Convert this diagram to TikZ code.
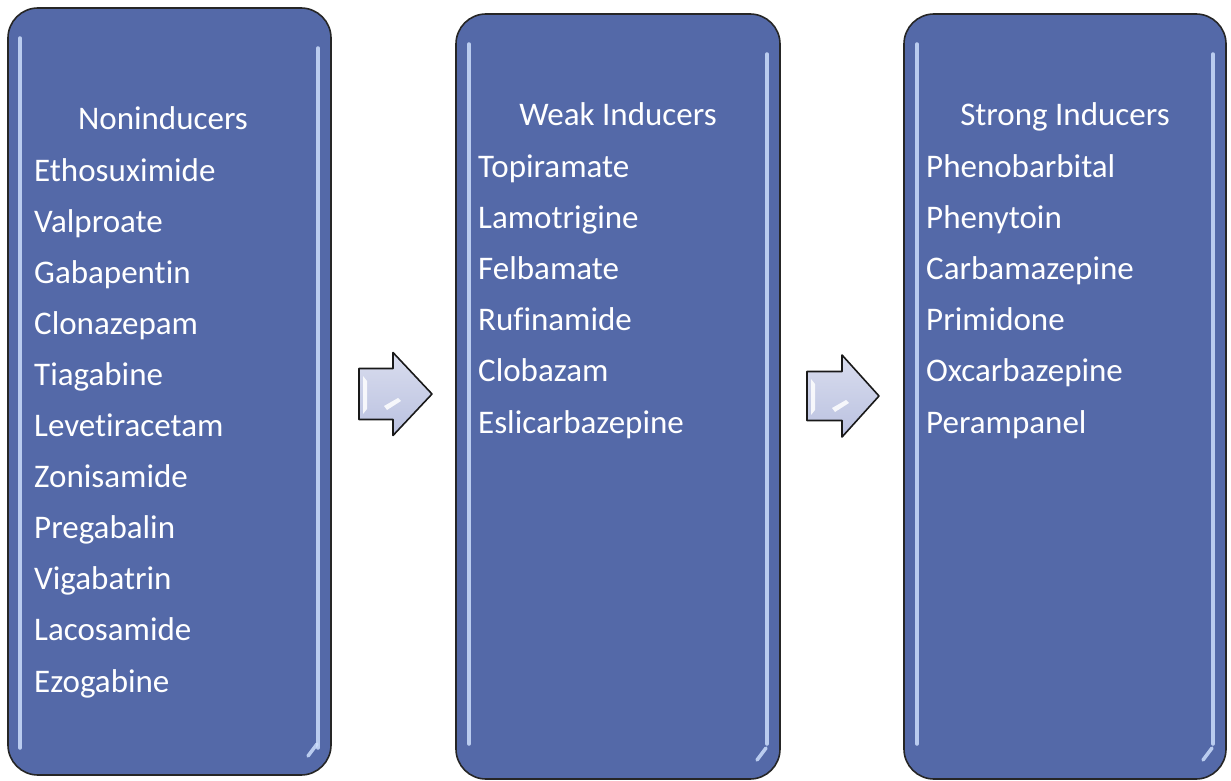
\documentclass[tikz,border=0pt]{standalone}
\usepackage{fontspec}
\setmainfont{Carlito}[Ligatures=NoCommon]
\definecolor{boxblue}{RGB}{84,105,168}
\definecolor{glowblue}{RGB}{205,222,252}
\definecolor{arrowlav}{RGB}{186,193,224}
\begin{document}
\begin{tikzpicture}[x=1pt,y=-1pt,
    panel/.style={draw=black!85,line width=1.6pt,fill=boxblue,rounded corners=30pt},
    glow/.style={glowblue,line width=3.5pt,line cap=round,opacity=0.85},
    blockarrow/.style={draw=black!90,line width=1.6pt,line join=round,top color=arrowlav!55!white,bottom color=arrowlav},
    heading/.style={anchor=base,text=white,inner sep=0pt,font=\fontsize{33}{40}\selectfont},
    druglist/.style={anchor=base west,text=white,inner sep=0pt,font=\fontsize{33}{40}\selectfont}]

    \useasboundingbox (0,0) rectangle (1231,781);

    % first panel
    \coordinate (P1) at (8,8);
    \draw[panel] (P1) rectangle ++(323,767);
    \draw[glow] (P1) ++(12,30) -- ++(0,710);
    \draw[glow] (P1) ++(310,40) -- ++(0,700);
    \draw[glow] (P1) ++(300,748) -- ++(9,-12);
    \node[heading] (head1) at (163,129) {Noninducers};
    \foreach \drug [count=\i] in {Ethosuximide,Valproate,Gabapentin,Clonazepam,Tiagabine,
        Levetiracetam,Zonisamide,Pregabalin,Vigabatrin,Lacosamide,Ezogabine}
        \node[druglist] (non\i) at (34,{181+51.1*(\i-1)}) {\drug};

    % second panel
    \coordinate (P2) at (456,14);
    \draw[panel] (P2) rectangle ++(324,765);
    \draw[glow] (P2) ++(13,30) -- ++(0,700);
    \draw[glow] (P2) ++(311,40) -- ++(0,690);
    \draw[glow] (P2) ++(301,746) -- ++(9,-12);
    \node[heading] (head2) at (618,126) {Weak Inducers};
    \foreach \drug [count=\i] in {Topiramate,Lamotrigine,Felbamate,Rufinamide,Clobazam,Eslicarbazepine}
        \node[druglist] (weak\i) at (478,{177+51.2*(\i-1)}) {\drug};

    % third panel
    \coordinate (P3) at (904,14);
    \draw[panel] (P3) rectangle ++(322,765);
    \draw[glow] (P3) ++(13,30) -- ++(0,700);
    \draw[glow] (P3) ++(309,40) -- ++(0,690);
    \draw[glow] (P3) ++(299,746) -- ++(9,-12);
    \node[heading] (head3) at (1065,126) {Strong Inducers};
    \foreach \drug [count=\i] in {Phenobarbital,Phenytoin,Carbamazepine,Primidone,Oxcarbazepine,Perampanel}
        \node[druglist] (strong\i) at (926,{177+51.2*(\i-1)}) {\drug};

    % first arrow
    \coordinate (A1) at (359,394);
    \draw[blockarrow] (A1) ++(0,-25.5) -- ++(34,0) -- ++(0,-16) -- ++(39,41.5)
        -- ++(-39,41.5) -- ++(0,-16) -- ++(-34,0) -- cycle;
    \fill[white,opacity=0.85] (A1) ++(4,-18) -- ++(4,5) -- ++(0,28) -- ++(-4,5) -- cycle;
    \fill[white,opacity=0.85] (A1) ++(25,12) -- ++(14,-8) -- ++(3,3) -- ++(-14,9) -- cycle;

    % second arrow
    \coordinate (A2) at (807,396);
    \draw[blockarrow] (A2) ++(0,-24.5) -- ++(35,0) -- ++(0,-16.5) -- ++(37,41)
        -- ++(-37,41) -- ++(0,-16.5) -- ++(-35,0) -- cycle;
    \fill[white,opacity=0.85] (A2) ++(4,-17) -- ++(4,5) -- ++(0,26) -- ++(-4,5) -- cycle;
    \fill[white,opacity=0.85] (A2) ++(25,12) -- ++(14,-8) -- ++(3,3) -- ++(-14,9) -- cycle;
\end{tikzpicture}
\end{document}
